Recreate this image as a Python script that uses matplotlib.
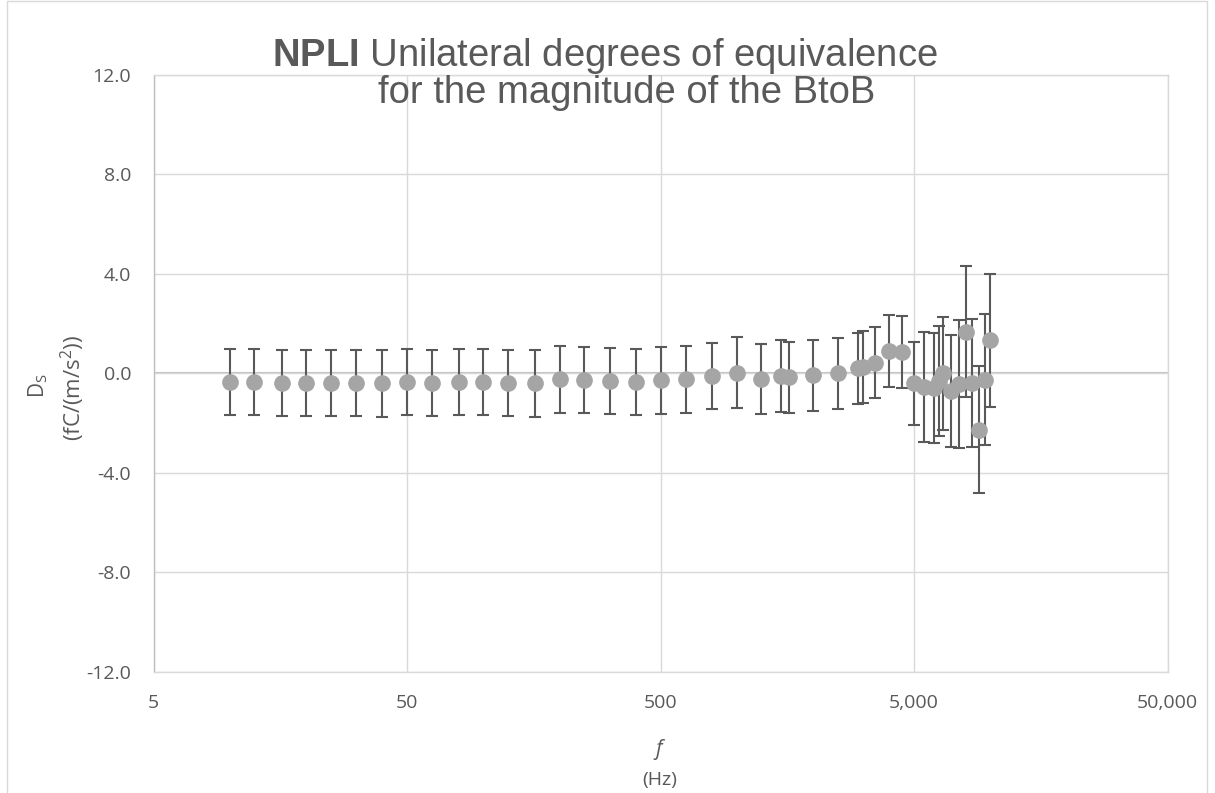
import matplotlib
matplotlib.use('Agg')
import matplotlib.pyplot as plt
import matplotlib.ticker as mticker
from matplotlib.patches import Rectangle
import numpy as np

plt.rcParams['mathtext.fontset'] = 'custom'
plt.rcParams['mathtext.rm'] = 'Open Sans'
plt.rcParams['mathtext.it'] = 'Open Sans:italic'
plt.rcParams['mathtext.bf'] = 'Liberation Sans:bold'

# frequency (Hz), degree of equivalence and its expanded uncertainty
freq = [10, 12.5, 16, 20, 25, 31.5, 40, 50, 63, 80, 100, 125, 160, 200, 250,
        315, 400, 500, 630, 800, 1000, 1250, 1500, 1600, 2000, 2500, 3000,
        3150, 3500, 4000, 4500, 5000, 5500, 6000, 6300, 6500, 7000, 7500,
        8000, 8500, 9000, 9500, 10000]
d_s = [-0.36, -0.36, -0.39, -0.39, -0.40, -0.40, -0.41, -0.36, -0.39, -0.36,
       -0.36, -0.39, -0.41, -0.25, -0.28, -0.32, -0.35, -0.29, -0.25, -0.12,
       0.03, -0.23, -0.12, -0.16, -0.09, 0.00, 0.20, 0.25, 0.43, 0.89, 0.86,
       -0.40, -0.54, -0.58, -0.31, -0.01, -0.70, -0.43, 1.66, -0.40, -2.26,
       -0.27, 1.32]
u_s = [1.32, 1.33, 1.33, 1.32, 1.32, 1.33, 1.33, 1.33, 1.33, 1.33, 1.33,
       1.33, 1.33, 1.33, 1.33, 1.33, 1.33, 1.33, 1.33, 1.32, 1.42, 1.41,
       1.44, 1.42, 1.44, 1.42, 1.43, 1.44, 1.44, 1.45, 1.45, 1.67, 2.21,
       2.21, 2.21, 2.25, 2.25, 2.56, 2.63, 2.58, 2.54, 2.63, 2.68]

x_ticks = [5, 50, 500, 5000, 50000]
y_ticks = [-12, -8, -4, 0, 4, 8, 12]

txt = '#595959'
grid = '#D9D9D9'
W, H = 1215, 793

fig = plt.figure(figsize=(12.15, 7.93), dpi=100)
fig.patches.append(Rectangle((7 / W, -0.01), 1200 / W, 1.0087, transform=fig.transFigure,
                             fill=False, edgecolor=grid, linewidth=1))
ax = fig.add_axes([153.5 / W, 1 - 672 / H, 1014 / W, 597.5 / H])

ax.errorbar(freq, d_s, yerr=u_s, fmt='o', color='#A5A5A5', markersize=11,
            ecolor='#595959', elinewidth=1.5, capsize=4.5, capthick=1.5, zorder=3)

ax.set_xscale('log')
ax.set_xlim(5, 50000)
ax.set_ylim(-12, 12)
ax.set_xticks(x_ticks)
ax.xaxis.set_major_formatter(mticker.FuncFormatter(lambda v, p: f'{v:,.0f}'))
ax.xaxis.set_minor_locator(mticker.NullLocator())
ax.set_yticks(y_ticks)
ax.yaxis.set_major_formatter(mticker.FormatStrFormatter('%.1f'))

for s in ax.spines.values():
    s.set_color(grid)
    s.set_linewidth(1)
ax.spines['left'].set_color('#BFBFBF')
ax.grid(True, color=grid, linewidth=1)
ax.axhline(0, color='#BFBFBF', linewidth=1.5, zorder=1)

ax.tick_params(length=0, pad=16, labelsize=14, labelcolor=txt)
for lab in ax.get_xticklabels() + ax.get_yticklabels():
    lab.set_family('Open Sans')

# axis titles
fig.text(660 / W, 1 - 750 / H, '$\\mathit{f}$', ha='center', va='center',
         fontsize=15, color=txt, family='Open Sans')
fig.text(660 / W, 1 - 780 / H, '(Hz)', ha='center', va='center',
         fontsize=14, color=txt, family='Open Sans')
fig.text(38 / W, 1 - 386 / H, 'D$_{\\mathrm{S}}$', ha='center', va='center',
         rotation=90, fontsize=15, color=txt, family='Open Sans')
fig.text(73 / W, 1 - 388 / H, '(fC/(m/s$^{2}$))', ha='center', va='center',
         rotation=90, fontsize=16, color=txt, family='Open Sans')

# chart title
fig.text(605 / W, 1 - 56 / H, '$\\bf{NPLI}$ Unilateral degrees of equivalence',
         ha='center', va='center', fontsize=27.5, color=txt, family='Liberation Sans')
fig.text(627 / W, 1 - 93 / H, 'for the magnitude of the BtoB',
         ha='center', va='center', fontsize=27.5, color=txt, family='Liberation Sans')

fig.savefig('out.png', dpi=100)
